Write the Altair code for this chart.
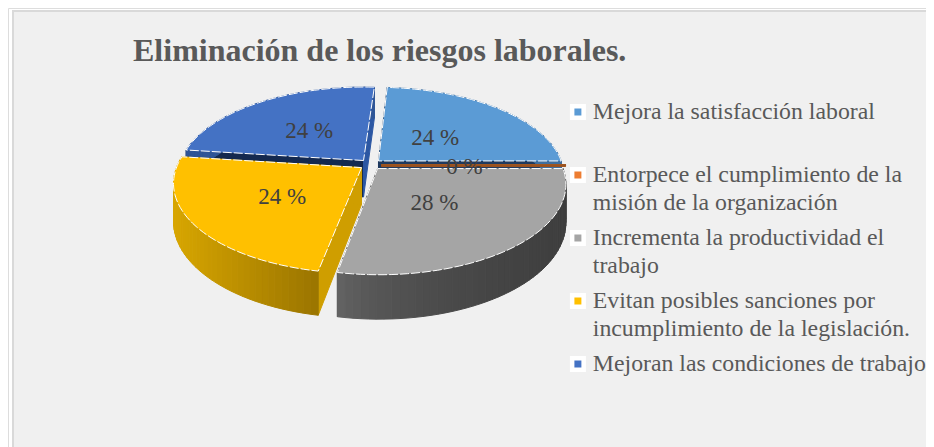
import math
import altair as alt

# ---- values
names = ["Mejora la satisfacción laboral",
         "Entorpece el cumplimiento de la|misión de la organización",
         "Incrementa la productividad el|trabajo",
         "Evitan posibles sanciones por|incumplimiento de la legislación.",
         "Mejoran las condiciones de trabajo"]
shares = [24, 0, 28, 24, 24]
colors = ["#5b9bd5", "#ed7d31", "#a5a5a5", "#ffc000", "#4472c4"]
# wall shading: rim colour at the left and right of the slice, colour of the two cut faces
rim_left = ["#3f6f9f", "#a0561f", "#6c6c6c", "#d8a600", "#2f5597"]
rim_right = ["#3f6f9f", "#a0561f", "#3e3e3e", "#9c7600", "#2f5597"]
rim_gamma = [1, 1, 0.45, 1, 1]
cut_start = ["#1f3a5f", "#9a5220", "#555555", "#cf9e00", "#14294f"]
cut_end = ["#1f3a5f", "#9a5220", "#555555", "#cf9e00", "#2c57a3"]
label_r = [0.45, 0.45, 0.45, 0.5, 0.5]
title = "Eliminación de los riesgos laborales."

# ---- pie view parameters (in page pixels less the 8px margin)
CX, CY = 362.5, 156.5
RX, RY = 184, 87
K = 1 / 6
DEPTH = 44
EXPLODE = 0.06
START = 3.6
STEP_DEG = 2


def project(u, v, z=0.0):
    s = 1 / (1 + K * v)
    y = CY - RY * v * s + z * DEPTH * (1 - K) * s
    return [CX + RX * u * s, y]


def unit(a):
    r = math.radians(a)
    return math.sin(r), math.cos(r)


def feature(ring, color, name=None, edge=None):
    ring = ring + [ring[0]]
    return {"type": "Feature",
            "geometry": {"type": "Polygon", "coordinates": [ring]},
            "properties": {"color": color, "name": name or "", "edge": edge or color}}


def hexmix(a, b, t):
    ca = [int(a[i:i + 2], 16) for i in (1, 3, 5)]
    cb = [int(b[i:i + 2], 16) for i in (1, 3, 5)]
    return "#%02x%02x%02x" % tuple(round(x + (y - x) * t) for x, y in zip(ca, cb))


walls, faces, labels = [], [], []
angle = START
slices = []
for i, sh in enumerate(shares):
    a0, a1 = angle, angle + sh * 3.6
    angle = a1
    mid = (a0 + a1) / 2
    bu, bv = unit(mid)
    ou, ov = EXPLODE * bu, EXPLODE * bv
    n = max(1, int((a1 - a0) / STEP_DEG))
    arc = [a0 + (a1 - a0) * j / n for j in range(n + 1)]
    pts = [(ou + unit(a)[0], ov + unit(a)[1]) for a in arc]
    slices.append((i, ou, ov, pts))
    face = [project(ou, ov)] + [project(u, v) for u, v in pts]
    faces.append(feature(face, colors[i], names[i], "#ffffff" if sh > 0 else "#a0561f"))
    lx, ly = project(ou + label_r[i] * bu, ov + label_r[i] * bv)
    labels.append({"text": f"{sh} %", "px": lx, "py": ly})

# walls painted from the back of the pie to the front
for i, ou, ov, pts in sorted(slices, key=lambda s: -(s[2])):
    zmax = 1 if shares[i] > 0 else 0.05
    for end, col in ((pts[0], cut_start[i]), (pts[-1], cut_end[i])):
        walls.append(feature([project(ou, ov), project(*end),
                              project(*end, zmax), project(ou, ov, zmax)], col))
    if shares[i] == 0:
        continue
    xs = [project(u, v)[0] for u, v in pts]
    lo, hi = min(xs), max(xs)
    for p, q in zip(pts[:-1], pts[1:]):
        t = ((project(*p)[0] - lo) / max(hi - lo, 1)) ** rim_gamma[i]
        walls.append(feature([project(*p), project(*q), project(*q, 1), project(*p, 1)],
                             hexmix(rim_left[i], rim_right[i], t)))

frame = alt.Chart(alt.Data(values=[{"a": 1}])).mark_rect(
    fill="#f0f0f0", stroke="#d9d9d9", strokeWidth=2
).encode(x=alt.value(5), x2=alt.value(960), y=alt.value(3), y2=alt.value(470))

wall_layer = alt.Chart(alt.Data(values=walls)).mark_geoshape(strokeWidth=1).encode(
    fill=alt.Fill("properties.color:N", scale=None),
    stroke=alt.Stroke("properties.color:N", scale=None),
).project(type="identity", scale=1, translate=[0, 0])

face_layer = alt.Chart(alt.Data(values=faces)).mark_geoshape(
    strokeWidth=1, strokeDash=[9, 2]
).encode(
    stroke=alt.Stroke("properties.edge:N", scale=None),
    fill=alt.Fill("properties.name:N",
                  scale=alt.Scale(domain=names, range=colors),
                  legend=alt.Legend(
                      title=None, orient="none", legendX=558, legendY=92,
                      symbolType="square", symbolSize=132, symbolStrokeColor="#ffffff",
                      symbolStrokeWidth=4.5, symbolOpacity=1,
                      labelFont="Liberation Serif", labelFontSize=23.8, labelColor="#595959",
                      labelExpr="split(datum.label, '|')", labelLimit=400,
                      labelOffset=3, rowPadding=7, gridAlign="all",
                      values=names)),
).project(type="identity", scale=1, translate=[0, 0])

text_layer = alt.Chart(alt.Data(values=labels)).mark_text(
    font="Liberation Serif", fontSize=23, color="#404040", dy=2
).encode(
    x=alt.X("px:Q", scale=None), y=alt.Y("py:Q", scale=None), text="text:N"
)

title_layer = alt.Chart(alt.Data(values=[{"t": title}])).mark_text(
    font="Liberation Serif", fontSize=32, fontWeight="bold", color="#595959",
    align="left", baseline="alphabetic"
).encode(x=alt.value(125), y=alt.value(53), text="t:N")

chart = alt.layer(frame, wall_layer, face_layer, text_layer, title_layer).resolve_scale(
    fill="independent", stroke="independent"
).properties(
    width=918, height=439, padding=0, autosize=alt.AutoSizeParams(type="none"),
    background="#ffffff"
).configure_view(stroke=None).configure(style={"guide-label": {"lineHeight": 28.5}})

chart.save("out.html", embed_options={"renderer": "svg", "actions": False})
